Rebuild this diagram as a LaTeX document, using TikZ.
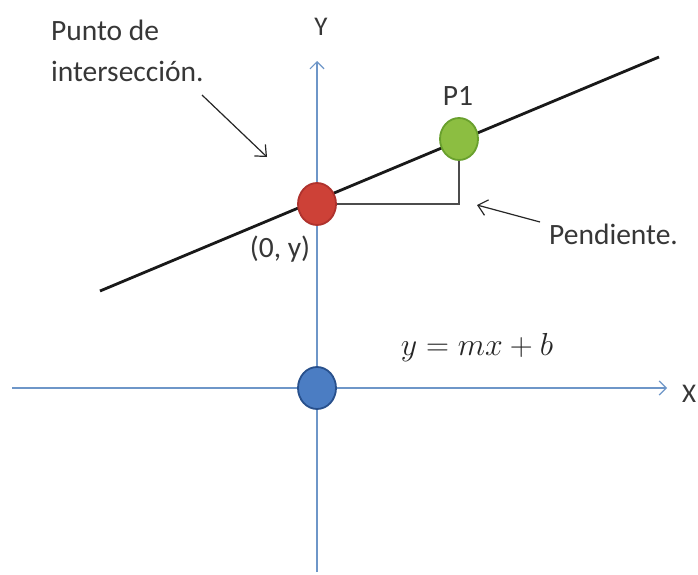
\documentclass[tikz,border=0pt]{standalone}
\usepackage{fontspec}
\setmainfont{Carlito}
\usetikzlibrary{arrows.meta,shapes.geometric}
\definecolor{axisblue}{RGB}{110,150,200}
\definecolor{redfill}{RGB}{205,65,55}
\definecolor{redline}{RGB}{175,50,45}
\definecolor{greenfill}{RGB}{140,190,65}
\definecolor{greenline}{RGB}{105,160,45}
\definecolor{bluefill}{RGB}{75,125,195}
\definecolor{blueline}{RGB}{40,80,140}
\definecolor{txt}{RGB}{55,55,55}
\begin{document}
\begin{tikzpicture}[x=1pt,y=-1pt,
  axis/.style={draw=axisblue,line width=1.3pt,-{Straight Barb[length=7pt,width=14pt,line width=1.2pt]}},
  dot/.style={ellipse,minimum width=38pt,minimum height=42pt,inner sep=0pt,line width=1.8pt},
  lbl/.style={font=\fontsize{29.5}{41}\selectfont,text=txt,inner sep=0pt},
  pointer/.style={draw=black!85,line width=1.2pt,-{Straight Barb[length=9pt,width=16pt,line width=1.2pt]}},
  slope/.style={draw=black!70,line width=1.6pt}]
\useasboundingbox (0,0) rectangle (698,574);
\fill[white] (0,0) rectangle (698,574);
% axes
\coordinate (xs) at (12,388);
\coordinate (xe) at (667,388);
\coordinate (ys) at (317,572);
\coordinate (ye) at (317,61);
\draw[axis] (xs) -- (xe);
\draw[axis] (ys) -- (ye);
\node[lbl,font=\fontsize{27}{30}\selectfont] (ylab) at (321,27) {Y};
\node[lbl,font=\fontsize{27}{30}\selectfont] (xlab) at (689,394) {X};
% line
\coordinate (ls) at (100,291);
\coordinate (le) at (659,57);
\draw[line width=2.8pt,black!90] (ls) -- (le);
% slope triangle
\coordinate (corner) at (459,204);
\node[dot,fill=redfill,draw=redline] (red) at (317,204) {};
\node[dot,fill=greenfill,draw=greenline] (green) at (459,139) {};
\draw[slope] (red.east |- corner) -- (corner) -- (green.south);
\node[dot,fill=bluefill,draw=blueline] (blue) at (317,388) {};
% labels
\node[lbl,anchor=west,align=left] (punto) at (51,51) {Punto de\\intersección.};
\coordinate (pa) at (202,95);
\coordinate (pb) at (267,157);
\draw[pointer] (pa) -- (pb);
\node[lbl] (zero) at (280,249) {(0, y)};
\node[lbl] (p1) at (458,96) {P1};
\node[lbl,anchor=west] (pend) at (549,234) {Pendiente.};
\coordinate (qa) at (540,222);
\coordinate (qb) at (477,205);
\draw[pointer] (qa) -- (qb);
\node[font=\fontsize{24}{28}\selectfont,inner sep=0pt,scale=1.28,text=black!85] (eq) at (477,348) {$y = mx + b$};
\end{tikzpicture}
\end{document}
